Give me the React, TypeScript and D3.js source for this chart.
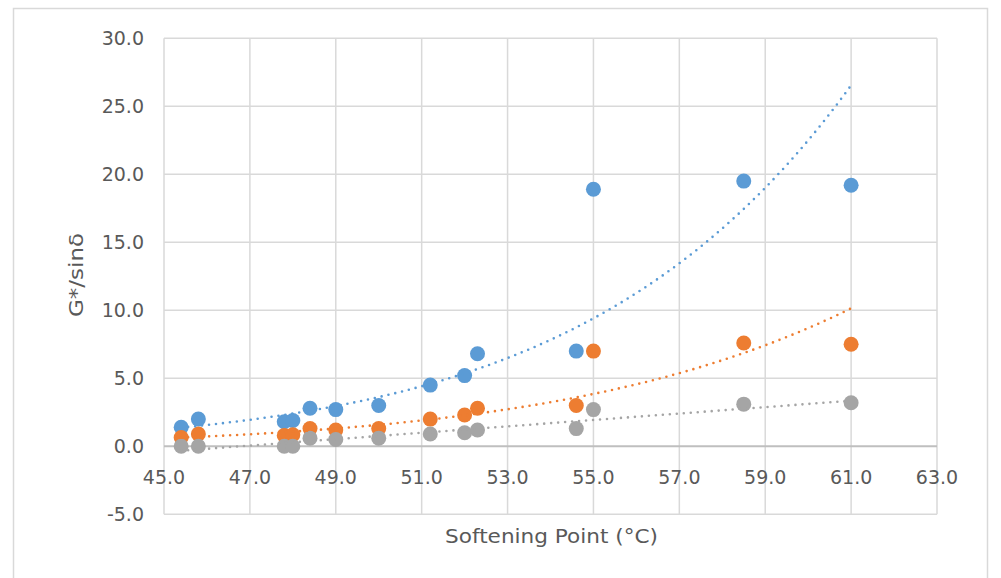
import React from "react";
import * as d3 from "d3";

const softening = [45.4, 45.8, 47.8, 48.0, 48.4, 49.0, 50.0, 51.2, 52.0, 52.3, 54.6, 55.0, 58.5, 61.0];
const seriesBlue = [1.4, 2.0, 1.8, 1.9, 2.8, 2.7, 3.0, 4.5, 5.2, 6.8, 7.0, 18.9, 19.5, 19.2];
const seriesOrange = [0.65, 0.9, 0.8, 0.85, 1.3, 1.2, 1.3, 2.0, 2.3, 2.8, 3.0, 7.0, 7.6, 7.5];
const seriesGray = [0.0, 0.0, 0.0, 0.0, 0.6, 0.5, 0.6, 0.9, 1.0, 1.2, 1.3, 2.7, 3.1, 3.2];
const xTicks = [45, 47, 49, 51, 53, 55, 57, 59, 61, 63];
const yTicks = [-5, 0, 5, 10, 15, 20, 25, 30];

const colors = ["#5B9BD5", "#ED7D31", "#A5A5A5"];

function linFit(xs: number[], ys: number[]) {
  const n = xs.length;
  const mx = d3.mean(xs)!;
  const my = d3.mean(ys)!;
  let sxy = 0, sxx = 0;
  for (let i = 0; i < n; i++) {
    sxy += (xs[i] - mx) * (ys[i] - my);
    sxx += (xs[i] - mx) ** 2;
  }
  const b = sxy / sxx;
  return { a: my - b * mx, b };
}

// Power trendline (y = a * x^b), as Excel fits it (least squares on ln-ln)
function powTrend(xs: number[], ys: number[]) {
  const f = linFit(xs.map((v) => Math.log(v)), ys.map((v) => Math.log(v)));
  return (x: number) => Math.exp(f.a + f.b * Math.log(x));
}
function linTrend(xs: number[], ys: number[]) {
  const f = linFit(xs, ys);
  return (x: number) => f.a + f.b * x;
}

export default function App() {
  const W = 1001, H = 578;
  const left = 164, right = 937, top = 38.3, bottom = 514.3;
  const x = d3.scaleLinear().domain([45, 63]).range([left, right]);
  const y = d3.scaleLinear().domain([-5, 30]).range([bottom, top]);
  const font = "'DejaVu Sans', sans-serif";

  const series = [seriesBlue, seriesOrange, seriesGray];
  const trends = [powTrend(softening, seriesBlue), powTrend(softening, seriesOrange), linTrend(softening, seriesGray)];
  const xmin = d3.min(softening)!, xmax = d3.max(softening)!;
  const samples = d3.range(0, 101).map((i) => xmin + ((xmax - xmin) * i) / 100);
  const line = (f: (v: number) => number) =>
    d3.line<number>().x((v) => x(v)).y((v) => y(f(v))).curve(d3.curveLinear)(samples) || "";

  return (
    <svg width={W} height={H} style={{ position: "absolute", left: 0, top: 0, background: "#fff" }}>
      <rect x={13.5} y={8.5} width={974} height={620} fill="#fff" stroke="#d9d9d9" strokeWidth={1.5} />
      {xTicks.map((t) => (
        <line key={"gx" + t} x1={x(t)} x2={x(t)} y1={top} y2={bottom} stroke="#d9d9d9" strokeWidth={1.5} />
      ))}
      {yTicks.map((t) => (
        <line key={"gy" + t} x1={left} x2={right} y1={y(t)} y2={y(t)} stroke={t === 0 ? "#bfbfbf" : "#d9d9d9"} strokeWidth={t === 0 ? 2 : 1.5} />
      ))}
      {yTicks.map((t) => (
        <text key={"ty" + t} x={144} y={y(t)} dy="0.36em" textAnchor="end" fontFamily={font} fontSize={19} fill="#595959">
          {t.toFixed(1)}
        </text>
      ))}
      {xTicks.map((t) => (
        <text key={"tx" + t} x={x(t)} y={y(0) + 38} textAnchor="middle" fontFamily={font} fontSize={19} fill="#595959">
          {t.toFixed(1)}
        </text>
      ))}
      <text x={551.5} y={543} textAnchor="middle" fontFamily={font} fontSize={20} fill="#595959" textLength={213} lengthAdjust="spacingAndGlyphs">
        Softening Point (°C)
      </text>
      <text transform={`translate(83,275) rotate(-90)`} textAnchor="middle" fontFamily={font} fontSize={20} fill="#595959" textLength={84} lengthAdjust="spacingAndGlyphs">
        G*/sinδ
      </text>
      {series.map((s, si) => (
        <g key={"s" + si}>
          {s.map((v, i) => (
            <circle key={i} cx={x(softening[i])} cy={y(v)} r={7.5} fill={colors[si]} />
          ))}
        </g>
      ))}
      {trends.map((f, si) => (
        <path key={"t" + si} d={line(f)} fill="none" stroke={colors[si]} strokeWidth={2.6} strokeDasharray="0 7" strokeLinecap="round" />
      ))}
    </svg>
  );
}
